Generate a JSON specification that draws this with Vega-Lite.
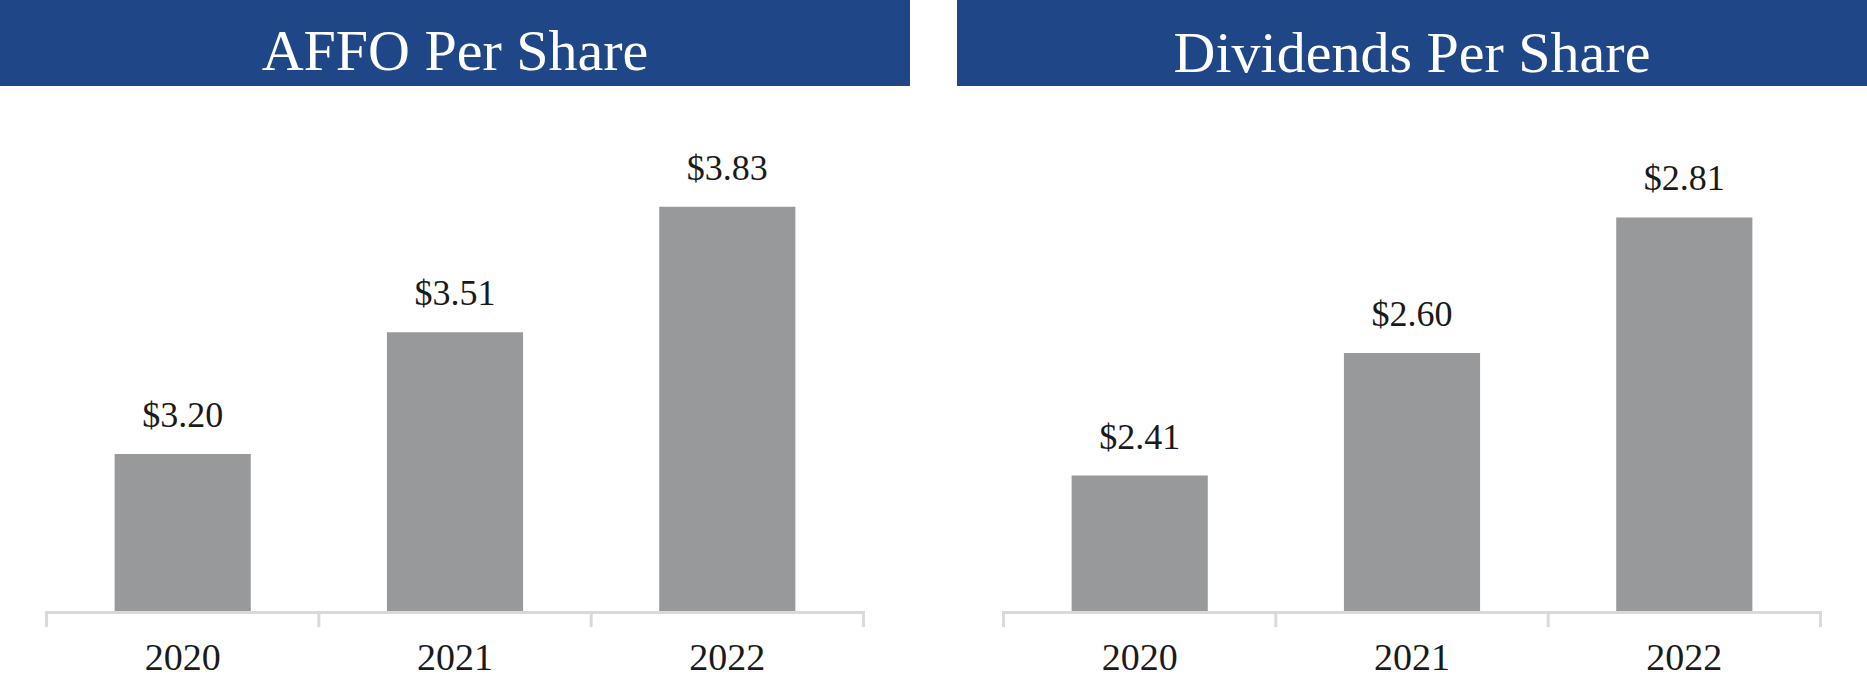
{
  "$schema": "https://vega.github.io/schema/vega-lite/v6.json",
  "padding": 0,
  "background": "white",
  "config": {"view": {"stroke": null}, "font": "Liberation Serif"},
  "datasets": {
    "affo": [{"year": "2020", "value": 3.20}, {"year": "2021", "value": 3.51}, {"year": "2022", "value": 3.83}],
    "div": [{"year": "2020", "value": 2.41}, {"year": "2021", "value": 2.60}, {"year": "2022", "value": 2.81}],
    "t1": [{"title": "AFFO Per Share"}],
    "t2": [{"title": "Dividends Per Share"}]
  },
  "spacing": 54,
  "vconcat": [
    {
      "spacing": 47,
      "hconcat": [
        {
          "width": 910, "height": 86,
          "view": {"fill": "#1f4788", "stroke": null},
          "data": {"name": "t1"},
          "mark": {"type": "text", "font": "Liberation Serif", "fontSize": 58, "color": "white", "baseline": "alphabetic", "dy": 27},
          "encoding": {"text": {"field": "title", "type": "nominal"}}
        },
        {
          "width": 910, "height": 86,
          "view": {"fill": "#1f4788", "stroke": null},
          "data": {"name": "t2"},
          "mark": {"type": "text", "font": "Liberation Serif", "fontSize": 58, "color": "white", "baseline": "alphabetic", "dy": 29},
          "encoding": {"text": {"field": "title", "type": "nominal"}}
        }
      ]
    },
    {
      "spacing": 47,
      "hconcat": [
        {
          "width": 910, "height": 471,
          "data": {"name": "affo"},
          "encoding": {
            "x": {"field": "year", "type": "nominal", "scale": {"paddingInner": 0, "paddingOuter": 0.171},
              "axis": {"title": null, "domain": false, "ticks": false, "tickSize": 0, "labelAngle": 0, "labelFontSize": 38, "labelFont": "Liberation Serif", "labelColor": "#1a1a1a", "labelBaseline": "alphabetic", "labelPadding": 58}}
          },
          "layer": [
            {
              "mark": {"type": "bar", "color": "#98999b", "width": {"band": 0.5}},
              "encoding": {"y": {"field": "value", "type": "quantitative", "scale": {"domain": [2.8, 4.0], "nice": false, "zero": false}, "axis": null}, "y2": {"datum": 2.8}}
            },
            {
              "mark": {"type": "text", "dy": -27, "baseline": "alphabetic", "fontSize": 36, "font": "Liberation Serif", "color": "#1a1a1a"},
              "encoding": {"y": {"field": "value", "type": "quantitative"}, "text": {"field": "value", "type": "quantitative", "format": "$.2f"}}
            },
            {
              "mark": {"type": "rule", "color": "#d9d9d9", "strokeWidth": 3, "yOffset": 1.5},
              "encoding": {"x": {"field": "year", "type": "nominal", "bandPosition": 0}, "x2": {"field": "year", "bandPosition": 1}, "y": {"datum": 2.8}}
            },
            {
              "mark": {"type": "tick", "orient": "vertical", "color": "#d9d9d9", "opacity": 1, "thickness": 3, "size": 16, "yOffset": 8},
              "encoding": {"x": {"field": "year", "type": "nominal", "bandPosition": 0}, "y": {"datum": 2.8}}
            },
            {
              "transform": [{"filter": "datum.year == '2022'"}],
              "mark": {"type": "tick", "orient": "vertical", "color": "#d9d9d9", "opacity": 1, "thickness": 3, "size": 16, "yOffset": 8},
              "encoding": {"x": {"field": "year", "type": "nominal", "bandPosition": 1}, "y": {"datum": 2.8}}
            }
          ]
        },
        {
          "width": 910, "height": 471,
          "data": {"name": "div"},
          "encoding": {
            "x": {"field": "year", "type": "nominal", "scale": {"paddingInner": 0, "paddingOuter": 0.171},
              "axis": {"title": null, "domain": false, "ticks": false, "tickSize": 0, "labelAngle": 0, "labelFontSize": 38, "labelFont": "Liberation Serif", "labelColor": "#1a1a1a", "labelBaseline": "alphabetic", "labelPadding": 58}}
          },
          "layer": [
            {
              "mark": {"type": "bar", "color": "#98999b", "width": {"band": 0.5}},
              "encoding": {"y": {"field": "value", "type": "quantitative", "scale": {"domain": [2.2, 2.93], "nice": false, "zero": false}, "axis": null}, "y2": {"datum": 2.2}}
            },
            {
              "mark": {"type": "text", "dy": -27, "baseline": "alphabetic", "fontSize": 36, "font": "Liberation Serif", "color": "#1a1a1a"},
              "encoding": {"y": {"field": "value", "type": "quantitative"}, "text": {"field": "value", "type": "quantitative", "format": "$.2f"}}
            },
            {
              "mark": {"type": "rule", "color": "#d9d9d9", "strokeWidth": 3, "yOffset": 1.5},
              "encoding": {"x": {"field": "year", "type": "nominal", "bandPosition": 0}, "x2": {"field": "year", "bandPosition": 1}, "y": {"datum": 2.2}}
            },
            {
              "mark": {"type": "tick", "orient": "vertical", "color": "#d9d9d9", "opacity": 1, "thickness": 3, "size": 16, "yOffset": 8},
              "encoding": {"x": {"field": "year", "type": "nominal", "bandPosition": 0}, "y": {"datum": 2.2}}
            },
            {
              "transform": [{"filter": "datum.year == '2022'"}],
              "mark": {"type": "tick", "orient": "vertical", "color": "#d9d9d9", "opacity": 1, "thickness": 3, "size": 16, "yOffset": 8},
              "encoding": {"x": {"field": "year", "type": "nominal", "bandPosition": 1}, "y": {"datum": 2.2}}
            }
          ]
        }
      ]
    }
  ]
}
